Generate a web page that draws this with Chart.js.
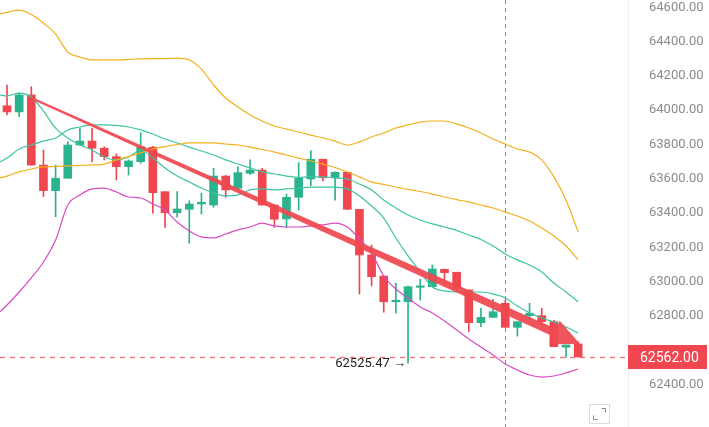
<!DOCTYPE html>
<html><head><meta charset="utf-8">
<script src="https://cdn.jsdelivr.net/npm/chart.js@4.4.1/dist/chart.umd.min.js"></script>
<style>html,body{margin:0;padding:0;background:#fff;}#wrap{width:709px;height:427px;position:relative;}</style>
</head><body><div id="wrap"><canvas id="c" width="709" height="427"></canvas></div>
<script>
// ---- data ----
const candleOpen  = [64026,63990,64089,63680,63531,63603,63797,63820,63778,63729,63671,63700,63784,63525,63402,63422,63453,63447,63616,63545,63632,63651,63447,63366,63492,63599,63714,63606,63638,63422,63156,63033,62883,62883,62967,62971,63072,63055,62952,62761,62792,62874,62734,62802,62802,62767,62618,62637];
const candleHigh  = [64147,64100,64137,63768,63680,63816,63894,63894,63787,63745,63710,63869,63790,63525,63525,63472,63516,63661,63620,63671,63710,63661,63447,63511,63694,63764,63714,63640,63640,63422,63214,63033,62991,62975,63014,63097,63074,63055,62952,62845,62897,62893,62767,62874,62845,62775,62631,62650];
const candleLow   = [63972,63962,63680,63496,63379,63603,63793,63700,63710,63593,63622,63690,63399,63317,63376,63224,63395,63434,63492,63540,63626,63447,63317,63317,63418,63560,63589,63476,63422,62928,62975,62822,62816,62525.47,62893,62971,62991,62950,62708,62738,62790,62734,62683,62777,62748,62621,62559,62559];
const candleClose = [63990,64089,63680,63531,63603,63797,63820,63778,63729,63671,63704,63787,63519,63402,63424,63453,63463,63616,63535,63636,63651,63447,63364,63492,63603,63714,63606,63638,63422,63156,63029,62883,62888,62971,62971,63074,63053,62962,62761,62792,62825,62734,62767,62816,62767,62621,62631,62562];

const lineX = [-0.6,0,1,2,3,4,5,6,7,8,9,10,11,12,13,14,15,16,17,18,19,20,21,22,23,24,25,26,27,28,29,30,31,32,33,34,35,36,37,38,39,40,41,42,43,44,45,46,47];
const upperBand = [64561,64570,64584,64558,64508,64444,64339,64310,64293,64293,64293,64296,64299,64301,64301,64304,64293,64240,64147,64071,64019,63972,63937,63908,63890,63873,63855,63838,63820,63797,63815,63844,63867,63896,63914,63931,63937,63937,63920,63896,63867,63832,63803,63774,63756,63710,63611,63476,63290];
const midOrange = [63605,63616,63640,63657,63669,63672,63675,63678,63681,63686,63710,63730,63751,63774,63788,63800,63809,63809,63809,63803,63797,63785,63771,63756,63739,63721,63704,63686,63666,63640,63611,63581,63567,63552,63538,63526,63511,63494,63479,63465,63447,63430,63406,63383,63354,63313,63267,63208,63127];
const slowTeal  = [63698,63721,63774,63797,63820,63838,63885,63902,63914,63914,63911,63902,63885,63861,63832,63809,63785,63762,63739,63710,63686,63663,63640,63628,63616,63608,63611,63611,63605,63599,63570,63535,63476,63430,63389,63360,63337,63319,63299,63272,63246,63208,63162,63127,63097,63057,62992,62940,62882];
const fastTeal  = [64089,64083,64100,64077,63995,63896,63838,63797,63768,63727,63710,63727,63768,63721,63663,63616,63581,63546,63517,63500,63506,63535,63541,63535,63541,63546,63552,63552,63552,63541,63500,63441,63371,63255,63150,63057,62969,62946,62940,62940,62940,62928,62905,62858,62818,62788,62765,62736,62701];
const lowerBand = [62823,62864,62940,63022,63115,63243,63447,63506,63541,63546,63523,63494,63488,63453,63418,63348,63296,63261,63255,63278,63302,63319,63342,63325,63319,63319,63325,63331,63342,63319,63249,63167,63033,62957,62905,62853,62818,62771,62718,62666,62619,62573,62520,62485,62456,62444,62450,62468,62491];

const yTickValues = [62400,62600,62800,63000,63200,63400,63600,63800,64000,64200,64400,64600];
const lastPrice = 62562.00;
const lowMark = {index: 33, value: 62525.47};
const crosshairIndex = 41;
const trendFrom = [2, 64071];
const trendTo = [47.15, 62637];

// ---- styles ----
const UP = '#2bb38d', DOWN = '#ef4650';
const idx = candleOpen.map((_, i) => i);
const colors = idx.map(i => candleClose[i] >= candleOpen[i] ? UP : DOWN);
const mkLine = (arr, color) => ({
  type: 'line', data: lineX.map((x, i) => ({x, y: arr[i]})),
  borderColor: color, borderWidth: 1.2, pointRadius: 0,
  cubicInterpolationMode: 'monotone', order: 0, fill: false
});

const overlay = {
  id: 'overlay',
  beforeDatasetsDraw(chart) {
    const {ctx, chartArea: a, scales: {x, y}} = chart;
    ctx.save();
    ctx.lineWidth = 1;
    ctx.setLineDash([4, 4]);
    ctx.strokeStyle = '#8a8a8a';
    const vx = Math.round(x.getPixelForValue(crosshairIndex)) + 0.5;
    ctx.beginPath(); ctx.moveTo(vx, 0); ctx.lineTo(vx, chart.height); ctx.stroke();
    ctx.setLineDash([5, 5]);
    ctx.lineWidth = 1.3;
    const py = Math.round(y.getPixelForValue(lastPrice)) + 0.5;
    ctx.strokeStyle = '#f4707b';
    ctx.beginPath(); ctx.moveTo(0, py); ctx.lineTo(a.right, py); ctx.stroke();
    ctx.restore();
  },
  afterDatasetsDraw(chart) {
    const {ctx, scales: {x, y}} = chart;
    ctx.save();
    const sx = x.getPixelForValue(trendFrom[0]), sy = y.getPixelForValue(trendFrom[1]);
    const tx = x.getPixelForValue(trendTo[0]), ty = y.getPixelForValue(trendTo[1]);
    const dx = tx - sx, dy = ty - sy, len = Math.hypot(dx, dy);
    const ux = dx / len, uy = dy / len, nx = -uy, ny = ux;
    const headL = 28, headW = 13, w0 = 1, w1 = 4;
    const bx = tx - ux * headL, by = ty - uy * headL;
    ctx.fillStyle = 'rgba(240,72,80,0.93)';
    ctx.beginPath();
    ctx.moveTo(sx + nx * w0, sy + ny * w0);
    ctx.lineTo(bx + nx * w1, by + ny * w1);
    ctx.lineTo(bx + nx * headW, by + ny * headW);
    ctx.lineTo(tx, ty);
    ctx.lineTo(bx - nx * headW, by - ny * headW);
    ctx.lineTo(bx - nx * w1, by - ny * w1);
    ctx.lineTo(sx - nx * w0, sy - ny * w0);
    ctx.closePath(); ctx.fill();
    const lx = x.getPixelForValue(lowMark.index), ly = y.getPixelForValue(lowMark.value);
    ctx.fillStyle = '#1e1e1e';
    ctx.font = '13px Roboto, Arial, sans-serif';
    ctx.textAlign = 'right'; ctx.textBaseline = 'middle';
    ctx.fillText(lowMark.value.toFixed(2) + ' \u2192', lx - 2, ly + 1);
    ctx.restore();
  },
  afterDraw(chart) {
    const {ctx, chartArea: a, scales: {y}} = chart;
    ctx.save();
    ctx.strokeStyle = '#f0f0f0'; ctx.lineWidth = 1;
    ctx.beginPath(); ctx.moveTo(a.right + 0.5, 0); ctx.lineTo(a.right + 0.5, chart.height); ctx.stroke();
    const py = Math.round(y.getPixelForValue(lastPrice));
    ctx.fillStyle = '#ef4650';
    ctx.fillRect(a.right, py - 12, 79, 24);
    ctx.fillStyle = '#ffffff';
    ctx.font = '14px Roboto, Arial, sans-serif';
    ctx.textAlign = 'left'; ctx.textBaseline = 'middle';
    ctx.fillText(lastPrice.toFixed(2), a.right + 12, py + 1);
    ctx.strokeStyle = '#dcdcdc'; ctx.lineWidth = 1;
    ctx.strokeRect(589.5, 404.5, 20, 19);
    ctx.strokeStyle = '#8a8a8a';
    ctx.beginPath();
    ctx.moveTo(601.5, 408.5); ctx.lineTo(605.5, 408.5); ctx.lineTo(605.5, 412.5);
    ctx.moveTo(593.5, 415.5); ctx.lineTo(593.5, 419.5); ctx.lineTo(597.5, 419.5);
    ctx.stroke();
    ctx.restore();
  }
};

new Chart(document.getElementById('c'), {
  type: 'bar',
  data: {
    datasets: [
      mkLine(upperBand, '#f4b01c'),
      mkLine(midOrange, '#f4b01c'),
      mkLine(slowTeal, '#3cc4a2'),
      mkLine(fastTeal, '#3cc4a2'),
      mkLine(lowerBand, '#d84cc2'),
      {
        type: 'bar', order: 1, grouped: false,
        data: idx.map(i => ({x: i, y: [candleOpen[i], candleClose[i]]})),
        backgroundColor: colors, borderWidth: 0, barThickness: 8, minBarLength: 1.5
      },
      {
        type: 'bar', order: 2, grouped: false,
        data: idx.map(i => ({x: i, y: [candleLow[i], candleHigh[i]]})),
        backgroundColor: colors, borderWidth: 0, barThickness: 1
      }
    ]
  },
  options: {
    responsive: false, animation: false, events: [],
    layout: {padding: 0},
    plugins: {legend: {display: false}, tooltip: {enabled: false}},
    scales: {
      x: {type: 'linear', min: -0.576, max: 51.1, offset: false, display: false},
      y: {
        position: 'right', min: 62152.7, max: 64642.6,
        grid: {display: false}, border: {display: false},
        ticks: {
          padding: 13, color: '#8c8c8c',
          font: {family: 'Roboto, Arial, sans-serif', size: 13},
          callback: v => Number(v).toFixed(2)
        },
        afterBuildTicks: s => { s.ticks = yTickValues.map(v => ({value: v})); },
        afterFit: s => { s.width = 81; s.paddingTop = 0; s.paddingBottom = 0; }
      }
    }
  },
  plugins: [overlay]
});
</script>
</body></html>
